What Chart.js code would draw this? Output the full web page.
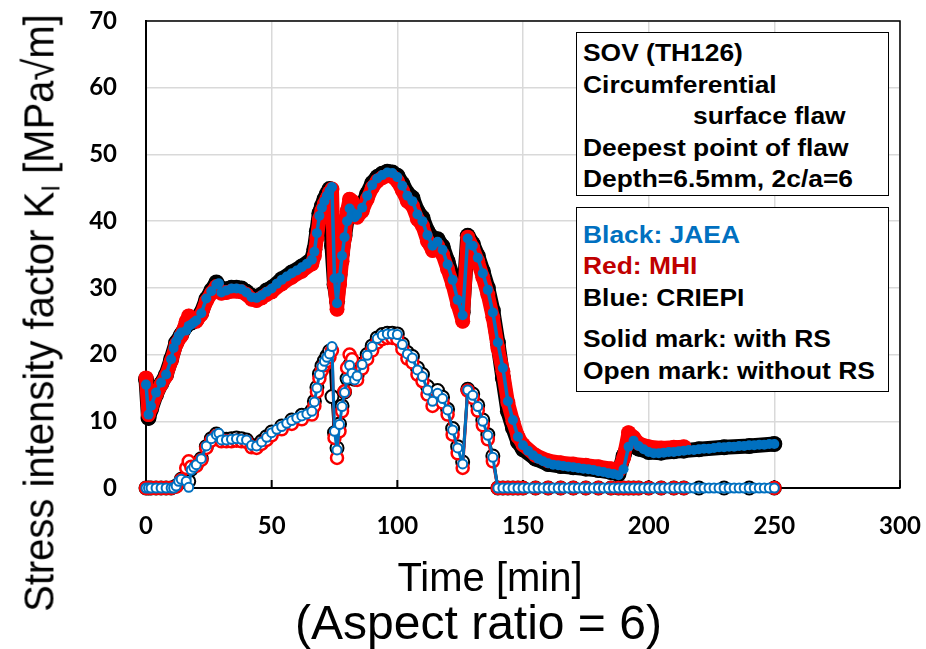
<!DOCTYPE html>
<html lang="en">
<head>
<meta charset="UTF-8">
<title>Stress intensity factor vs time</title>
<script src="https://cdn.jsdelivr.net/npm/chart.js"></script>
<style>
  body { margin: 0; background: #fff; }
  .wrap { position: relative; width: 926px; height: 649px; overflow: hidden; }
  #kiChart { position: absolute; left: 0; top: 0; }
  .ytitle {
    position: absolute; left: 38px; top: 313px;
    font-family: 'Liberation Sans', Arial, sans-serif; font-size: 40px; line-height: 40px;
    white-space: nowrap; color: #000;
    transform: translate(-50%, -50%) rotate(-90deg) scaleY(1.07);
  }
  .ytitle sub { font-size: 0.6em; line-height: 0; vertical-align: -0.25em; }
  .xtitle, .caption {
    position: absolute; white-space: nowrap; color: #000;
    font-family: 'Liberation Sans', Arial, sans-serif; line-height: 1;
    transform: translateX(-50%);
  }
  .xtitle { left: 490px; top: 556.5px; font-size: 40px; }
  .caption { left: 478.5px; top: 598.6px; font-size: 48px; }
  .note {
    position: absolute; left: 576px; width: 313px; box-sizing: border-box;
    border: 1.5px solid #000; background: #fff;
  }
  .note .txt {
    position: absolute; left: 5.5px;
    font-family: 'Liberation Sans', Arial, sans-serif; font-weight: bold;
    font-size: 24px; line-height: 31.6px; white-space: nowrap; color: #000;
    transform: scaleX(1.1); transform-origin: 0 0;
  }
</style>
</head>
<body>

<div class="wrap">
  <canvas id="kiChart" width="926" height="649"></canvas>
  <div class="ytitle">Stress intensity factor K<sub>I</sub> [MPa√m]</div>
  <div class="xtitle">Time [min]</div>
  <div class="caption">(Aspect ratio = 6)</div>
  <div class="note" style="top:32px; height:164px;">
    <div class="txt" style="top:4.1px;">
      <div>SOV (TH126)</div>
      <div>Circumferential</div>
      <div style="padding-left:100px;">surface flaw</div>
      <div>Deepest point of flaw</div>
      <div>Depth=6.5mm, 2c/a=6</div>
    </div>
  </div>
  <div class="note" style="top:207px; height:185px;">
    <div class="txt" style="top:10.7px;">
      <div style="color:#0070C0;">Black: JAEA</div>
      <div style="color:#C00000;">Red: MHI</div>
      <div>Blue: CRIEPI</div>
      <div style="margin-top:10px;">Solid mark: with RS</div>
      <div>Open mark: without RS</div>
    </div>
  </div>
</div>

<script>
    // CRIEPI time points [min]
    const ct = [
        0, 1, 2, 4, 6, 8, 10, 11, 12, 13, 14, 16, 17, 18, 19, 20,
        22, 24, 26, 28, 29,
        30, 32, 34, 36, 38, 40, 42, 44, 46, 48, 50, 52, 54, 56, 58, 60, 62, 64, 66,
        67, 68, 69, 70, 71, 72, 73, 74, 75, 76, 77, 78, 79, 80, 81, 82, 83, 84,
        86, 88, 90, 92, 94, 96, 98, 100, 102, 104, 106, 108, 110, 112, 114, 116, 118, 120,
        122, 124, 126, 128, 130, 132, 134, 136, 138, 140,
        142, 144, 146, 148, 150, 152, 154, 156, 158, 160,
        162, 164, 166, 168, 170, 172, 174, 176, 178, 180,
        182, 184, 186, 188, 190, 192, 194, 196, 198, 200,
        202, 204, 206, 208, 210, 212, 214, 216, 218, 220,
        222, 224, 226, 228, 230, 232, 234, 236, 238, 240,
        242, 244, 246, 248, 250
    ];
    const criepiWith = [
        15.5, 11.0, 12.3, 14.3, 15.8, 17.0, 19.3, 21.0, 22.0, 22.8, 23.3, 23.6, 24.3, 24.5, 24.8, 25.1,
        26.2, 28.4, 29.5, 30.5, 30.7,
        29.3, 29.6, 29.9, 29.9, 29.8, 29.3, 28.6, 28.5, 28.9, 29.4, 29.9, 30.6, 31.2, 31.7, 32.2, 32.6, 33.1, 33.6, 34.2,
        35.4, 38.2, 40.8, 42.0, 43.0, 43.8, 44.5, 45.1, 31.4, 27.7, 31.5, 34.8, 37.6, 40.0, 41.9, 41.3, 40.6, 41.0,
        42.0, 43.8, 45.4, 46.4, 46.9, 47.3, 47.2, 46.6, 45.3, 43.8, 43.0, 41.0, 40.0, 37.9, 36.3, 36.9, 35.7, 33.5,
        31.2, 28.2, 25.9, 37.4, 36.3, 34.5, 32.2, 29.7, 26.3, 21.8,
        18.0, 13.0, 10.2, 7.7, 6.4, 5.6, 4.9, 4.4, 4.0, 3.7,
        3.5, 3.4, 3.3, 3.2, 3.1, 3.0, 2.9, 2.8, 2.7, 2.5,
        2.4, 2.2, 2.1, 1.9, 2.8, 6.2, 7.1, 6.3, 5.8, 5.4,
        5.2, 5.2, 5.3, 5.4, 5.4, 5.5, 5.6, 5.7, 5.7, 5.8,
        5.9, 5.9, 6.0, 6.1, 6.1, 6.2, 6.2, 6.3, 6.3, 6.4,
        6.4, 6.5, 6.5, 6.6, 6.6
    ];
    const criepiWithout = [
        0, 0, 0, 0, 0, 0, 0, 0, 0.3, 1.0, 1.3, 1.0, 0.1, 2.7, 3.1, 3.5,
        4.4, 6.3, 7.4, 8.0, 8.2,
        7.2, 7.2, 7.3, 7.4, 7.3, 7.2, 6.4, 6.3, 6.9, 7.6, 8.3, 8.8, 9.2, 9.7, 10.1, 10.5, 10.8, 11.1, 11.5,
        12.9, 15.0, 17.0, 18.2, 19.0, 19.6, 20.1, 21.2, 8.5, 5.7, 9.5, 12.2, 14.3, 16.3, 18.4, 17.2, 16.2, 16.8,
        18.5, 19.9, 21.2, 22.4, 22.9, 23.1, 23.1, 23.0, 21.5, 20.1, 19.5, 17.7, 16.7, 14.7, 13.0, 14.2, 13.4, 11.7,
        8.7, 6.0, 3.6, 14.7, 13.9, 12.2, 10.0, 7.9, 4.6, 0,
        0, 0, 0, 0, 0, 0, 0, 0, 0, 0,
        0, 0, 0, 0, 0, 0, 0, 0, 0, 0,
        0, 0, 0, 0, 0, 0, 0, 0, 0, 0,
        0, 0, 0, 0, 0, 0, 0, 0, 0, 0,
        0, 0, 0, 0, 0, 0, 0, 0, 0, 0,
        0, 0, 0, 0, 0
    ];

    // JAEA and MHI time points [min]
    const mt = [
        0, 1, 2, 4, 6, 8, 10, 12, 14, 16, 17, 18, 20, 22, 24, 26, 28, 30, 32, 34, 36, 38, 40, 42, 44, 46, 48, 50, 54, 58, 62, 66,
        67, 68, 69, 70, 71, 72, 73, 74, 75, 76, 77, 78, 79, 80, 81, 82, 83, 84,
        86, 88, 90, 92, 94, 96, 98, 100, 102, 104, 106, 108, 110, 112, 114, 116, 118, 120, 122, 124, 126, 128, 130, 132, 134, 136, 138, 140,
        142, 144, 146, 148, 150,
        155, 160, 165, 170, 175, 180, 185,
        188, 190, 192, 194, 196,
        200, 205, 210, 214,
        220, 230, 240, 250
    ];
    const mhiWith = [
        16.5, 11.0, 12.0, 14.0, 15.5, 16.8, 19.0, 21.5, 22.8, 25.0, 25.8, 25.3, 25.0, 26.0, 28.0, 29.2, 30.2, 29.2, 29.3, 29.5, 29.5, 29.4, 29.0, 28.3, 28.1, 28.5, 29.0, 29.4, 30.6, 31.6, 32.5, 33.6,
        34.8, 37.5, 40.3, 41.6, 42.6, 43.4, 44.3, 44.8, 30.5, 26.8, 30.5, 34.0, 37.5, 41.5, 43.3, 43.0, 41.3, 40.6,
        41.5, 43.3, 45.0, 46.0, 46.5, 46.8, 46.7, 46.0, 44.6, 43.0, 42.3, 40.3, 39.3, 37.0, 35.6, 36.3, 35.0, 32.8, 30.5, 27.5, 25.0, 37.6, 36.0, 34.0, 31.6, 29.0, 25.6, 21.0,
        17.5, 12.8, 10.0, 7.7, 6.5,
        4.9, 4.1, 3.8, 3.6, 3.4, 3.2, 2.9,
        2.6, 4.5, 8.3, 7.6, 6.7,
        6.2, 6.0, 6.1, 6.2,
        null, null, null, null
    ];
    const mhiWithout = [
        0, 0, 0, 0, 0, 0, 0, 0.2, 1.2, 3.0, 4.0, 3.2, 3.3, 4.2, 6.0, 7.1, 7.8, 7.0, 7.0, 7.0, 7.1, 7.0, 6.9, 6.1, 6.0, 6.6, 7.2, 7.9, 8.8, 9.6, 10.3, 11.0,
        12.3, 14.4, 16.4, 17.6, 18.4, 19.0, 19.6, 20.6, 7.5, 4.5, 8.5, 11.5, 14.5, 18.0, 20.0, 19.3, 17.0, 16.2,
        17.9, 19.3, 20.6, 21.8, 22.3, 22.5, 22.5, 22.3, 20.8, 19.4, 18.8, 17.0, 16.0, 14.0, 12.3, 13.6, 12.8, 11.0, 8.0, 5.2, 3.0, 14.6, 13.5, 11.6, 9.4, 7.3, 4.0, 0,
        0, 0, 0, 0, 0,
        0, 0, 0, 0, 0, 0, 0,
        0, 0, 0, 0, 0,
        0, 0, 0, 0,
        null, null, null, 0
    ];
    const jaeaWith = [
        16.3, 10.5, 11.8, 14.0, 15.6, 17.0, 19.3, 21.8, 23.0, 24.3, 24.8, 24.8, 25.2, 26.3, 28.3, 29.6, 30.8, 29.8, 29.8, 30.0, 30.0, 29.9, 29.4, 28.8, 28.6, 29.0, 29.6, 30.0, 31.3, 32.3, 33.2, 34.3,
        35.8, 38.5, 41.2, 42.3, 43.3, 44.1, 44.8, 36.3, 30.5, 28.0, 32.0, 35.3, 37.8, 40.3, 42.0, 41.5, 40.8, 41.2,
        42.3, 44.1, 45.7, 46.6, 47.1, 47.4, 47.3, 46.8, 45.6, 44.2, 43.5, 41.5, 40.5, 38.5, 37.5, 37.3, 36.2, 34.0, 31.7, 28.7, 26.3, 37.8, 36.6, 34.8, 32.5, 30.0, 26.6, 21.8,
        16.5, 11.5, 9.0, 6.9, 5.8,
        4.4, 3.6, 3.3, 3.1, 2.9, 2.7, 2.4,
        2.1, 4.8, 6.6, 6.3, 5.9,
        5.4, 5.3, 5.5, 5.6,
        5.8, 6.1, 6.3, 6.6
    ];
    const jaeaWithout = [
        0, 0, 0, 0, 0, 0, 0, 0.3, 1.3, 1.8, 1.0, 2.8, 3.5, 4.4, 6.2, 7.4, 8.1, 7.4, 7.3, 7.4, 7.5, 7.4, 7.2, 6.4, 6.3, 7.0, 7.7, 8.4, 9.3, 10.2, 10.9, 11.6,
        13.0, 15.1, 17.1, 18.3, 19.1, 19.8, 20.5, 13.7, 8.3, 6.0, 9.6, 12.3, 14.4, 16.4, 18.4, 17.3, 16.3, 16.9,
        18.6, 20.0, 21.3, 22.5, 23.0, 23.2, 23.2, 23.1, 21.6, 20.3, 19.7, 18.0, 17.0, 15.2, 13.8, 14.6, 13.6, 11.8, 8.9, 6.2, 3.9, 14.8, 14.1, 12.4, 10.2, 8.0, 4.8, 0,
        0, 0, 0, 0, 0,
        0, 0, 0, 0, 0, 0, 0,
        0, 0, 0, 0, 0,
        0, 0, 0, 0,
        0, 0, 0, 0
    ];

    const xTicks = [0, 50, 100, 150, 200, 250, 300];
    const yTicks = [0, 10, 20, 30, 40, 50, 60, 70];

    const BLUE = '#0070C0';
    const RED = '#FF0000';
    const BLACK = '#000000';

    function pts(times, vals) {
        return times.map((t, i) => ({ x: t, y: vals[i] }));
    }

    // solid marks: filled, open marks: white fill with coloured ring
    function solid(label, data, color, lineW, r, order) {
        return {
            label, data, order, clip: false,
            borderColor: color, borderWidth: lineW,
            borderJoinStyle: 'round', borderCapStyle: 'round',
            pointRadius: r, pointHoverRadius: r,
            pointBackgroundColor: color, pointBorderColor: color, pointBorderWidth: 0,
            tension: 0
        };
    }
    function open(label, data, color, lineW, r, ringW, order) {
        return {
            label, data, order, clip: false,
            borderColor: color, borderWidth: lineW,
            borderJoinStyle: 'round',
            pointRadius: r, pointHoverRadius: r,
            pointBackgroundColor: '#ffffff', pointBorderColor: color, pointBorderWidth: ringW,
            tension: 0
        };
    }

    const datasets = [
        open('CRIEPI without RS', pts(ct, criepiWithout), BLUE, 3, 4.5, 2, 1),
        open('MHI without RS', pts(mt, mhiWithout), RED, 3, 6, 2.5, 2),
        open('JAEA without RS', pts(mt, jaeaWithout), BLACK, 3, 6.5, 2, 3),
        solid('CRIEPI with RS', pts(ct, criepiWith), BLUE, 3.5, 5, 4),
        solid('MHI with RS', pts(mt, mhiWith), RED, 14, 7.5, 5),
        solid('JAEA with RS', pts(mt, jaeaWith), BLACK, 15, 8, 6)
    ];

    // plot-area frame (top/right) and short inward tick marks on the time axis
    const frame = {
        id: 'frame',
        beforeDatasetsDraw(chart) {
            const { ctx, chartArea: a, scales: { x } } = chart;
            ctx.save();
            ctx.strokeStyle = '#000';
            ctx.lineWidth = 1.5;
            ctx.beginPath();
            ctx.moveTo(a.left, a.top);
            ctx.lineTo(a.right, a.top);
            ctx.lineTo(a.right, a.bottom);
            ctx.stroke();
            ctx.lineWidth = 2;
            x.ticks.forEach((tk, i) => {
                const px = x.getPixelForTick(i);
                ctx.beginPath();
                ctx.moveTo(px, a.bottom);
                ctx.lineTo(px, a.bottom - 8);
                ctx.stroke();
            });
            ctx.restore();
        }
    };

    const tickFont = { family: 'Lato', weight: 'bold', size: 24 };
    // label offsets come from invisible tick marks so they do not shrink the plot area
    const hidden = 'rgba(0,0,0,0)';

    new Chart(document.getElementById('kiChart'), {
        type: 'line',
        data: { datasets },
        plugins: [frame],
        options: {
            responsive: false,
            animation: false,
            layout: { padding: { left: 0, right: 26, top: 21, bottom: 0 } },
            plugins: {
                legend: { display: false },
                tooltip: { enabled: false },
                title: { display: false }
            },
            scales: {
                x: {
                    type: 'linear',
                    min: xTicks[0],
                    max: xTicks[xTicks.length - 1],
                    afterBuildTicks: s => { s.ticks = xTicks.map(v => ({ value: v })); },
                    ticks: { color: '#000', font: tickFont, padding: 0, maxRotation: 0 },
                    grid: { color: '#d9d9d9', lineWidth: 1.5, drawTicks: true, tickLength: 23.5, tickColor: hidden },
                    border: { color: '#000', width: 2 },
                    afterFit: s => { s.height = 161; }
                },
                y: {
                    type: 'linear',
                    min: yTicks[0],
                    max: yTicks[yTicks.length - 1],
                    afterBuildTicks: s => { s.ticks = yTicks.map(v => ({ value: v })); },
                    ticks: { color: '#000', font: tickFont, padding: 0 },
                    grid: { color: '#d9d9d9', lineWidth: 1.5, drawTicks: true, tickLength: 29, tickColor: hidden },
                    border: { color: '#000', width: 2 },
                    afterFit: s => { s.width = 146; }
                }
            }
        }
    });
</script>

</body>
</html>
